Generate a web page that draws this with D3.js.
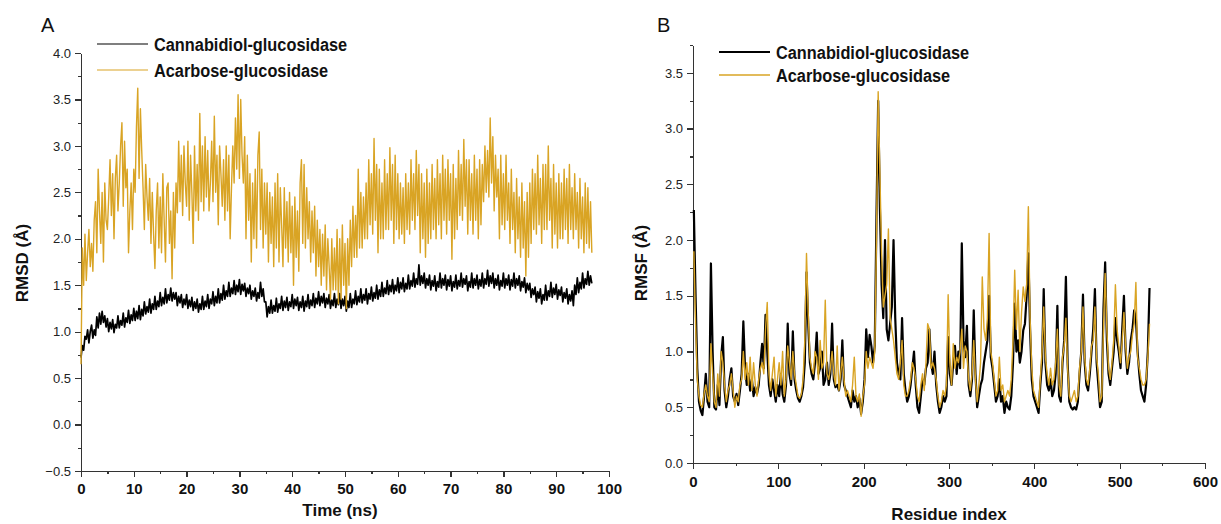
<!DOCTYPE html>
<html>
<head>
<meta charset="utf-8">
<script src="https://cdn.jsdelivr.net/npm/d3@7"></script>
<style>
body { margin: 0; background: #fff; }
.axis path, .axis line { stroke: #333; stroke-width: 1.3; shape-rendering: crispEdges; }
.axis text { font-family: "Liberation Sans", Arial, sans-serif; font-size: 13px; fill: #222; }
.x.axis text { font-weight: bold; font-size: 15px; fill: #111; }
.title { font-family: "Liberation Sans", Arial, sans-serif; font-weight: bold; font-size: 17px; fill: #111; }
.legend { font-family: "Liberation Sans", Arial, sans-serif; font-weight: bold; font-size: 19px; fill: #111; }
.panel { font-family: "Liberation Sans", Arial, sans-serif; font-size: 20px; fill: #111; }
.line { fill: none; stroke-linejoin: round; }
</style>
</head>
<body>
<svg class="chart"></svg>
<script>
var seriesNames = ["Cannabidiol-glucosidase", "Acarbose-glucosidase"];
var seriesColors = ["#000000", "#d9a424"];

// A: RMSD vs time, one value every 0.25 ns
var rmsdStep = 0.25;
var rmsdCannabidiol = [
  0.72,0.85,0.8,0.95, 0.92,1.02,0.88,1.0, 1.07,0.93,1.02,0.96, 1.16,1.04,1.2,1.08, 1.22,1.1,1.17,1.05,
  1.14,1.0,1.1,1.03, 1.13,0.99,1.08,1.04, 1.17,1.04,1.12,1.07, 1.2,1.05,1.15,1.1, 1.23,1.09,1.18,1.12,
  1.25,1.12,1.22,1.14, 1.28,1.13,1.24,1.17, 1.32,1.19,1.27,1.21, 1.35,1.2,1.3,1.24, 1.38,1.24,1.33,1.27,
  1.42,1.28,1.37,1.3, 1.46,1.31,1.4,1.34, 1.47,1.33,1.42,1.35, 1.42,1.28,1.38,1.31, 1.4,1.26,1.35,1.29,
  1.4,1.25,1.34,1.27, 1.37,1.23,1.32,1.25, 1.35,1.21,1.3,1.24, 1.38,1.24,1.33,1.27, 1.4,1.25,1.35,1.3,
  1.43,1.28,1.38,1.31, 1.46,1.31,1.41,1.34, 1.5,1.35,1.44,1.38, 1.53,1.38,1.47,1.41, 1.55,1.4,1.5,1.43,
  1.56,1.4,1.51,1.44, 1.52,1.38,1.47,1.41, 1.5,1.35,1.44,1.38, 1.47,1.33,1.42,1.36, 1.53,1.38,1.46,1.32,
  1.32,1.16,1.27,1.2, 1.34,1.2,1.28,1.22, 1.36,1.21,1.3,1.25, 1.38,1.23,1.33,1.26, 1.37,1.23,1.32,1.27,
  1.4,1.25,1.35,1.28, 1.37,1.23,1.32,1.26, 1.38,1.22,1.33,1.27, 1.4,1.25,1.34,1.28, 1.41,1.26,1.36,1.3,
  1.43,1.28,1.38,1.31, 1.41,1.26,1.36,1.3, 1.4,1.25,1.34,1.28, 1.41,1.26,1.35,1.29, 1.41,1.25,1.35,1.28,
  1.38,1.22,1.33,1.26, 1.41,1.26,1.35,1.3, 1.44,1.29,1.38,1.32, 1.46,1.31,1.4,1.34, 1.46,1.3,1.41,1.35,
  1.48,1.33,1.42,1.36, 1.5,1.35,1.45,1.38, 1.53,1.38,1.47,1.41, 1.55,1.4,1.5,1.43, 1.56,1.41,1.5,1.44,
  1.58,1.42,1.53,1.46, 1.58,1.43,1.52,1.46, 1.61,1.46,1.55,1.49, 1.63,1.48,1.57,1.51, 1.72,1.5,1.6,1.52,
  1.63,1.47,1.57,1.5, 1.61,1.45,1.55,1.49, 1.6,1.44,1.54,1.48, 1.63,1.47,1.57,1.5, 1.61,1.45,1.56,1.49,
  1.6,1.44,1.54,1.48, 1.61,1.46,1.55,1.49, 1.63,1.48,1.57,1.51, 1.6,1.44,1.54,1.48, 1.63,1.47,1.57,1.5,
  1.61,1.46,1.56,1.49, 1.63,1.47,1.57,1.51, 1.66,1.49,1.6,1.52, 1.63,1.47,1.57,1.5, 1.61,1.45,1.55,1.49,
  1.63,1.47,1.57,1.5, 1.61,1.45,1.56,1.49, 1.63,1.47,1.57,1.5, 1.6,1.44,1.54,1.48, 1.58,1.42,1.52,1.45,
  1.52,1.37,1.46,1.4, 1.48,1.32,1.43,1.36, 1.46,1.3,1.4,1.34, 1.5,1.34,1.44,1.38, 1.53,1.37,1.47,1.4,
  1.51,1.35,1.45,1.39, 1.48,1.32,1.42,1.36, 1.46,1.3,1.4,1.33, 1.44,1.28,1.5,1.4, 1.58,1.42,1.53,1.46,
  1.63,1.47,1.57,1.51, 1.65,1.5,1.6,1.52
];
var rmsdAcarbose = [
  0.65,1.9,1.5,2.05, 1.55,1.85,2.1,1.7, 1.95,1.65,2.2,2.4, 1.85,2.75,2.3,1.95, 2.5,1.75,2.6,2.2,
  2.1,2.45,2.85,2.25, 2.7,2.0,2.65,2.9, 2.3,2.6,3.0,3.25, 2.35,3.05,2.55,2.75, 1.85,2.3,2.6,2.1,
  2.75,2.5,3.2,3.62, 2.65,3.4,2.95,2.55, 2.1,2.8,2.45,2.2, 2.65,1.95,2.5,2.05, 1.68,2.3,2.6,1.9,
  2.45,1.85,2.7,2.2, 1.75,2.55,2.6,1.95, 2.3,1.57,2.5,1.9, 2.6,2.28,3.05,2.4, 2.9,2.25,3.0,2.6,
  2.35,3.05,2.2,2.9, 2.5,1.95,3.0,2.3, 2.8,2.2,3.35,2.4, 3.0,2.3,3.1,2.45, 2.95,2.3,2.6,3.05,
  2.4,3.32,2.5,2.9, 2.15,3.0,2.7,2.35, 2.85,2.2,3.0,2.3, 2.9,2.0,2.55,3.0, 2.6,3.3,2.75,3.55,
  2.65,3.5,2.9,2.6, 3.1,2.0,2.9,2.2, 2.7,1.75,2.6,2.0, 2.75,1.9,2.9,3.15, 2.1,2.75,1.9,2.6,
  2.05,2.6,1.75,2.5, 1.95,2.45,1.7,2.6, 1.9,2.7,1.75,2.55, 2.15,1.7,2.55,1.9, 2.4,1.75,2.5,1.85,
  2.35,1.5,2.45,1.8, 2.3,1.65,2.6,2.85, 1.95,2.8,1.9,2.55, 2.0,2.4,1.75,2.3, 1.85,2.35,1.6,2.2,
  1.7,2.1,1.5,2.05, 1.6,2.15,1.45,2.0, 1.7,1.35,2.0,1.45, 1.9,1.45,2.1,1.3, 2.0,1.35,2.15,1.5,
  1.95,1.25,2.0,1.5, 2.2,1.7,2.35,1.8, 2.25,1.8,2.75,1.9, 2.5,1.9,2.45,2.0, 2.6,2.0,2.85,2.15,
  2.7,2.05,3.08,2.2, 2.8,1.85,2.75,2.0, 2.6,2.0,2.85,2.1, 2.7,2.1,2.98,2.2, 2.8,1.95,2.9,2.1,
  2.7,2.0,2.6,2.05, 2.55,1.95,2.7,2.1, 2.6,2.05,2.85,2.2, 2.7,2.1,2.95,2.25, 2.8,1.85,2.7,2.0,
  2.6,1.8,2.75,1.95, 2.6,2.0,2.8,2.1, 2.65,2.0,2.85,2.15, 2.7,2.0,2.9,2.2, 2.75,2.05,2.85,2.2,
  2.7,1.78,2.8,2.0, 2.65,2.1,2.95,2.25, 2.8,2.2,3.07,2.35, 2.85,2.05,2.85,2.2, 2.7,2.05,2.9,2.2,
  2.75,2.0,2.85,2.15, 2.8,2.4,3.0,2.5, 2.95,2.45,3.3,2.6, 3.1,2.3,2.9,2.45, 2.75,2.0,2.9,2.15,
  2.7,2.1,2.9,2.2, 2.6,1.95,2.75,2.1, 2.5,1.85,2.65,2.0, 2.45,1.8,2.6,1.9, 2.4,1.6,2.5,1.8,
  2.6,1.95,2.75,2.1, 2.7,2.05,2.9,2.15, 2.65,1.95,2.8,2.1, 2.8,2.1,3.0,2.2, 2.65,1.9,2.8,2.05,
  2.6,1.9,2.7,2.0, 2.6,2.0,2.75,2.1, 2.65,1.95,2.8,2.1, 2.55,2.0,2.7,2.1, 2.5,1.9,2.65,2.0,
  2.45,1.85,2.6,1.95, 2.55,1.9,2.4,1.85
];

// B: RMSF per residue, read every 2nd residue starting at residue 1
var rmsfFirstResidue = 1;
var rmsfResidueStep = 2;
var rmsfCannabidiol = [
  2.27,1.5,0.85,0.55,0.47,0.43,0.6,0.8,0.55,0.5,
  1.79,1.0,0.5,0.48,0.7,0.52,0.95,1.13,0.65,0.5,
  0.6,0.75,0.85,0.6,0.55,0.62,0.52,0.65,0.8,1.27,
  0.85,0.7,0.8,0.65,0.75,0.6,0.68,0.62,0.7,0.9,
  1.07,0.85,1.33,1.0,0.7,0.6,0.75,0.65,0.55,0.7,
  0.6,0.8,0.62,0.55,0.7,1.25,0.8,0.7,1.18,0.75,
  0.65,0.58,0.55,0.6,0.68,0.9,1.71,1.25,0.9,0.8,
  0.75,0.9,1.17,0.8,0.85,1.0,0.7,0.75,0.9,0.7,
  0.8,1.25,0.75,0.68,0.7,0.65,0.75,1.1,0.7,0.65,
  0.6,0.55,0.5,0.65,0.55,0.6,0.5,0.58,0.44,0.55,
  0.75,1.2,0.95,1.15,1.05,0.9,1.05,2.2,3.25,2.3,
  1.6,1.3,2.0,1.2,1.1,1.25,1.4,2.0,1.3,0.9,
  0.8,0.75,1.3,0.8,0.65,0.55,0.6,0.7,0.85,1.0,
  0.7,0.5,0.45,0.6,0.75,0.7,0.85,0.9,1.2,0.9,
  0.8,1.0,0.7,0.55,0.45,0.5,0.6,0.55,0.6,1.13,
  0.8,0.7,0.9,1.05,0.8,1.0,0.85,1.97,1.1,0.95,
  1.23,0.7,0.6,0.75,1.37,0.8,0.5,0.6,0.7,0.75,
  0.9,1.0,1.1,1.5,0.95,0.85,0.7,0.55,0.6,0.75,
  0.55,0.6,0.45,0.55,0.5,0.48,0.6,0.9,1.43,1.0,
  1.1,0.9,1.0,1.19,1.25,1.5,1.88,1.2,0.75,0.6,
  0.55,0.5,0.45,0.7,0.9,1.56,0.9,0.7,0.65,0.75,
  0.6,0.65,0.8,1.41,0.6,0.55,0.9,1.1,1.67,0.9,
  0.55,0.5,0.48,0.5,0.48,0.55,0.8,1.0,1.51,0.9,
  0.7,0.65,0.8,1.0,1.2,1.56,0.9,0.7,0.5,0.55,
  1.38,1.8,1.1,0.8,0.7,0.85,1.0,1.3,1.1,1.0,
  0.85,1.2,1.5,1.0,0.8,0.9,1.1,1.2,1.37,1.3,
  1.0,0.8,0.65,0.6,0.55,0.7,1.0,1.57
];
var rmsfAcarbose = [
  1.9,1.25,0.75,0.6,0.52,0.5,0.62,0.7,0.6,0.55,
  1.07,0.8,0.55,0.5,0.8,0.6,1.0,0.9,0.7,0.55,
  0.65,0.7,0.8,0.65,0.5,0.6,0.55,0.7,0.75,1.0,
  0.75,0.9,0.7,0.95,0.65,0.9,0.7,0.6,0.75,0.85,
  0.9,0.8,1.2,1.44,0.8,0.65,0.8,0.95,0.6,0.75,
  0.9,0.7,1.0,0.6,0.75,1.05,0.9,0.75,1.0,0.8,
  0.7,0.6,0.58,0.62,0.75,1.1,1.88,1.35,0.95,0.85,
  0.8,1.0,0.95,0.75,1.1,0.85,0.9,1.46,0.8,0.75,
  0.85,1.0,0.8,0.7,1.05,0.65,0.8,0.95,0.75,0.6,
  0.65,0.6,0.55,0.7,0.95,0.6,0.55,0.62,0.42,0.6,
  0.7,1.0,0.85,0.95,0.9,0.85,1.0,2.0,3.33,2.6,
  1.9,1.4,1.5,1.6,2.1,1.3,1.2,1.1,0.95,0.8,
  0.75,0.9,1.1,0.7,0.6,0.6,0.65,0.75,0.9,0.85,
  0.75,0.6,0.55,0.7,0.8,0.65,0.9,1.25,1.2,0.85,
  0.9,0.85,0.75,0.6,0.5,0.55,0.65,0.6,0.7,1.51,
  0.9,0.7,1.07,0.85,0.95,0.9,1.0,1.2,0.85,1.05,
  1.0,0.75,0.65,0.8,1.1,0.75,0.55,0.7,0.9,1.67,
  1.2,1.1,1.3,2.06,1.0,0.9,0.75,0.6,0.65,0.95,
  0.65,0.7,0.55,0.6,0.65,0.6,0.75,1.1,1.73,1.2,
  1.55,1.0,1.35,1.58,1.45,1.6,2.3,1.3,0.85,0.65,
  0.6,0.55,0.5,0.75,1.0,1.4,0.95,0.8,0.7,0.85,
  0.7,0.75,0.9,1.2,0.7,0.6,0.95,1.05,1.3,0.85,
  0.6,0.55,0.6,0.65,0.55,0.6,0.85,1.0,1.4,0.95,
  0.75,0.7,0.85,1.05,1.1,1.4,0.95,0.8,0.55,0.6,
  1.2,1.7,1.2,0.85,0.75,0.9,1.1,1.6,1.2,1.05,
  0.9,1.1,1.35,1.05,0.85,0.95,1.0,1.15,1.25,1.62,
  0.95,0.85,0.75,0.7,0.7,0.75,0.95,1.25
];

var rmsdTicksX = [0, 10, 20, 30, 40, 50, 60, 70, 80, 90, 100];
var rmsdTicksY = [-0.5, 0.0, 0.5, 1.0, 1.5, 2.0, 2.5, 3.0, 3.5, 4.0];
var rmsfTicksX = [0, 100, 200, 300, 400, 500, 600];
var rmsfTicksY = [0.0, 0.5, 1.0, 1.5, 2.0, 2.5, 3.0, 3.5];

var svg = d3.select(".chart")
    .attr("width", 1221)
    .attr("height", 524);

function toPoints(values, x0, step) {
    return values.map(function(v, i) { return [x0 + i * step, v]; });
}

function drawAxes(x, y, ticksX, ticksY, minorX, minorY, opts) {
    var fmt = d3.format(".1f");
    svg.append("g")
        .attr("class", "y axis")
        .attr("transform", "translate(" + x.range()[0] + ",0)")
        .call(d3.axisLeft(y).tickValues(minorY).tickSize(3).tickSizeOuter(0).tickFormat(""));
    svg.append("g")
        .attr("class", "y axis")
        .attr("transform", "translate(" + x.range()[0] + ",0)")
        .call(d3.axisLeft(y).tickValues(ticksY).tickSize(6).tickSizeOuter(0).tickPadding(4).tickFormat(fmt));
    svg.append("g")
        .attr("class", "x axis")
        .attr("transform", "translate(0," + y.range()[0] + ")")
        .call(d3.axisBottom(x).tickValues(minorX).tickSize(3).tickSizeOuter(0).tickFormat(""));
    svg.append("g")
        .attr("class", "x axis")
        .attr("transform", "translate(0," + y.range()[0] + ")")
        .call(d3.axisBottom(x).tickValues(ticksX).tickSize(6).tickSizeOuter(0).tickPadding(opts.xPad));

    svg.append("text")
        .attr("class", "title")
        .attr("text-anchor", "middle")
        .attr("x", opts.xTitleX)
        .attr("y", opts.xTitleY)
        .text(opts.xTitle);
    svg.append("text")
        .attr("class", "title")
        .attr("text-anchor", "middle")
        .attr("transform", "translate(" + opts.yTitleX + "," + opts.yTitleY + ") rotate(-90)")
        .text(opts.yTitle);
    svg.append("text")
        .attr("class", "panel")
        .attr("x", opts.panelX)
        .attr("y", 32)
        .text(opts.panel);
}

function drawLegend(lx, ly, gap, widths) {
    seriesNames.forEach(function(name, i) {
        svg.append("line")
            .attr("x1", lx).attr("x2", lx + 51)
            .attr("y1", ly + i * gap).attr("y2", ly + i * gap)
            .attr("stroke", seriesColors[i])
            .attr("stroke-width", widths[i]);
        // the original legend font is a narrow bold face
        svg.append("text")
            .attr("class", "legend")
            .attr("transform", "translate(" + (lx + 57) + "," + (ly + i * gap + 7) + ") scale(0.86,1)")
            .text(name);
    });
}

// ---- panel A: RMSD
var xA = d3.scaleLinear().domain([0, 100]).range([81, 609]);
var yA = d3.scaleLinear().domain([-0.5, 4.0]).range([471, 53]);
var lineA = d3.line()
    .x(function(d) { return xA(d[0]); })
    .y(function(d) { return yA(d[1]); });

drawAxes(xA, yA, rmsdTicksX, rmsdTicksY, d3.range(0, 101, 5), d3.range(-0.5, 4.01, 0.25), {
    xPad: 6, xTitle: "Time (ns)", xTitleX: 340, xTitleY: 516,
    yTitle: "RMSD (Å)", yTitleX: 28, yTitleY: 263, panel: "A", panelX: 41
});

svg.append("path")
    .datum(toPoints(rmsdCannabidiol, 0, rmsdStep))
    .attr("class", "line")
    .attr("stroke", seriesColors[0])
    .attr("stroke-width", 1.7)
    .attr("d", lineA);
svg.append("path")
    .datum(toPoints(rmsdAcarbose, 0, rmsdStep))
    .attr("class", "line")
    .attr("stroke", seriesColors[1])
    .attr("stroke-width", 1.4)
    .attr("d", lineA);

drawLegend(97, 44, 26, [1.2, 1.2]);

// ---- panel B: RMSF
var xB = d3.scaleLinear().domain([0, 600]).range([693, 1205]);
var yB = d3.scaleLinear().domain([0, 3.75]).range([463, 45]);
var lineB = d3.line()
    .x(function(d) { return xB(d[0]); })
    .y(function(d) { return yB(d[1]); });

drawAxes(xB, yB, rmsfTicksX, rmsfTicksY, d3.range(0, 601, 50), d3.range(0, 3.76, 0.25), {
    xPad: 7, xTitle: "Residue index", xTitleX: 949, xTitleY: 520,
    yTitle: "RMSF (Å)", yTitleX: 647, yTitleY: 263, panel: "B", panelX: 657
});

svg.append("path")
    .datum(toPoints(rmsfCannabidiol, rmsfFirstResidue, rmsfResidueStep))
    .attr("class", "line")
    .attr("stroke", seriesColors[0])
    .attr("stroke-width", 2.2)
    .attr("d", lineB);
svg.append("path")
    .datum(toPoints(rmsfAcarbose, rmsfFirstResidue, rmsfResidueStep))
    .attr("class", "line")
    .attr("stroke", seriesColors[1])
    .attr("stroke-width", 1.4)
    .attr("d", lineB);

drawLegend(719, 52, 23, [2, 1.3]);
</script>
</body>
</html>
